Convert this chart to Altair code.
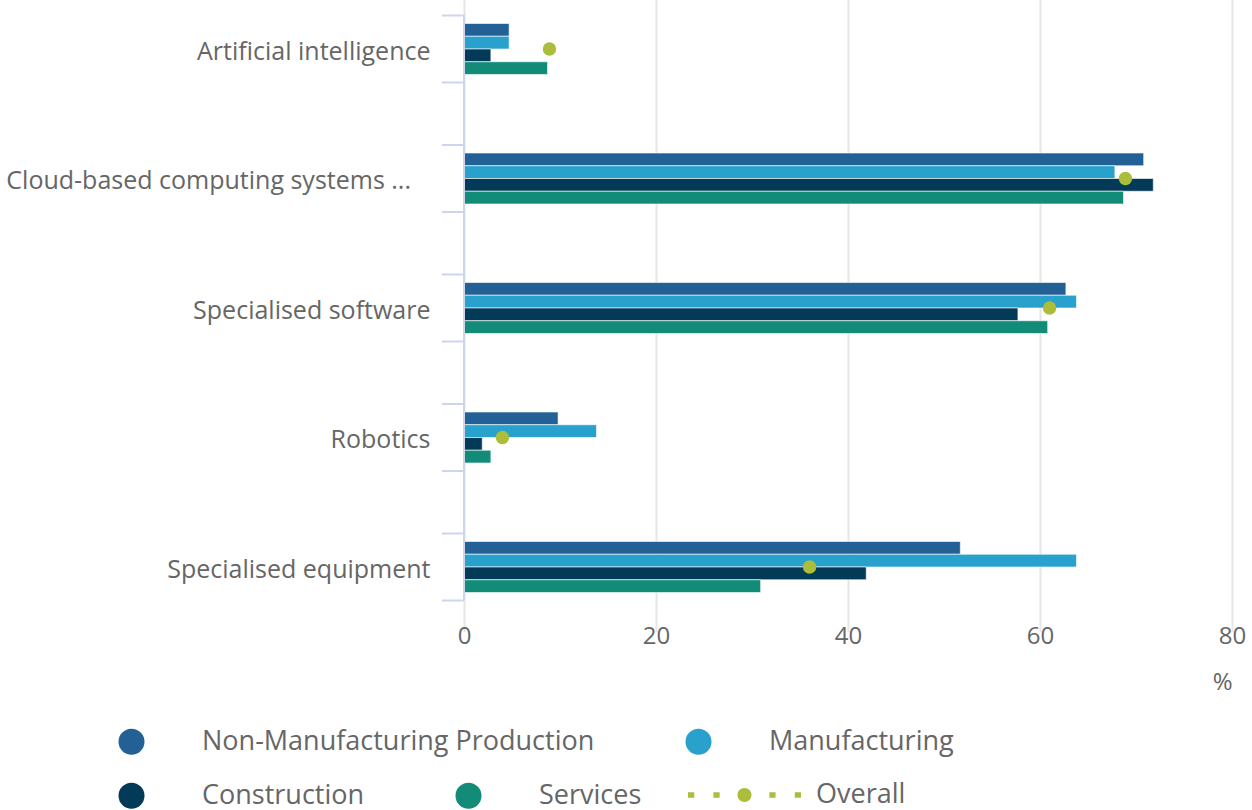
import altair as alt
import pandas as pd

categories = ["Artificial intelligence", "Cloud-based computing systems ...",
              "Specialised software", "Robotics", "Specialised equipment"]
series_names = ["Non-Manufacturing Production", "Manufacturing", "Construction", "Services"]
nmp = [4.7, 70.8, 62.7, 9.8, 51.7]
manufacturing = [4.7, 67.8, 63.8, 13.8, 63.8]
construction = [2.8, 71.8, 57.7, 1.9, 41.9]
services = [8.7, 68.7, 60.8, 2.8, 30.9]
overall = [8.9, 68.9, 61.0, 4.0, 36.0]
x_ticks = [0, 20, 40, 60, 80]

colors = {"Non-Manufacturing Production": "#236096", "Manufacturing": "#28a1cd",
          "Construction": "#033a58", "Services": "#138b79"}
overall_color = "#abbd3a"

rows = []
for name, vals in zip(series_names, [nmp, manufacturing, construction, services]):
    for c, v in zip(categories, vals):
        rows.append({"category": c, "series": name, "value": v})
bars_df = pd.DataFrame(rows)
overall_df = pd.DataFrame({"category": categories, "value": overall, "series": "Overall"})
cat_df = pd.DataFrame({"category": categories})

FONT = "Open Sans"
TEXT = "#666666"
LAV = "#ccd6eb"

W, H = 768, 586
y_scale = alt.Scale(domain=categories, range=[-30.75, 616.75], paddingInner=0, paddingOuter=0)
yoff_scale = alt.Scale(domain=series_names, range=[39.25, 90.25], paddingInner=0, paddingOuter=0)
x_scale = alt.Scale(domain=[0, 80], nice=False)

x_axis = alt.Axis(values=x_ticks, grid=True, gridColor="#e6e6e6", gridWidth=2,
                  domain=False, ticks=False, labelFont=FONT, labelFontSize=24,
                  labelColor=TEXT, labelPadding=23, labelFlush=False, labelBound=False,
                  labelOverlap=False, title="%", titleFont=FONT,
                  titleFontSize=24, titleColor=TEXT, titleFontWeight="normal",
                  titleX=768, titleY=81, titleAlign="right", titleBaseline="middle",
                  titleAnchor="end")
y_axis = alt.Axis(domain=False, ticks=False, grid=False, labelFont=FONT,
                  labelFontSize=25, labelColor=TEXT, labelPadding=34, labelLimit=0,
                  labelOffset=2.5,
                  labelExpr="datum.label == 'Cloud-based computing systems ...' ? "
                            "datum.label + '\u00a0\u00a0\u00a0\u200b' : datum.label",
                  title=None)

X = alt.X("value:Q", scale=x_scale, axis=x_axis)
Y = alt.Y("category:N", scale=y_scale, sort=categories, axis=y_axis)


def legend(x, y, extra):
    base = dict(orient="none", legendX=x, legendY=y, direction="horizontal", title=None,
                labelFont=FONT, labelFontSize=27, labelColor=TEXT, labelLimit=0,
                padding=0, symbolStrokeWidth=0, columnPadding=90)
    base.update(extra)
    return alt.Legend(**base)


circle_leg = dict(symbolType="circle", symbolSize=676, labelOffset=57)


def bar_layer(names, lx, ly):
    sub = bars_df[bars_df["series"].isin(names)]
    return alt.Chart(sub).mark_bar(stroke="white", strokeWidth=0.6).encode(
        x=X, y=Y,
        yOffset=alt.YOffset("series:N", scale=yoff_scale, sort=series_names),
        color=alt.Color("series:N", sort=names,
                        scale=alt.Scale(domain=names, range=[colors[n] for n in names]),
                        legend=legend(lx, ly, circle_leg)),
    )


layer_a = bar_layer(series_names[:2], -346, 713)
layer_b = bar_layer(series_names[2:], -346, 767)

path = ("M-1,-0.05L-0.89,-0.05L-0.89,0.05L-1,0.05Z "
        "M-0.55,-0.05L-0.44,-0.05L-0.44,0.05L-0.55,0.05Z "
        "M0.44,-0.05L0.55,-0.05L0.55,0.05L0.44,0.05Z "
        "M0.89,-0.05L1,-0.05L1,0.05L0.89,0.05Z "
        "M-0.124,0A0.124,0.124,0,1,0,0.124,0A0.124,0.124,0,1,0,-0.124,0Z")

dots = alt.Chart(overall_df).mark_circle(size=180, opacity=1).encode(
    x=X, y=Y,
    color=alt.Color("series:N", scale=alt.Scale(domain=["Overall"], range=[overall_color]),
                    legend=legend(224, 723.5, dict(symbolType=path, symbolSize=12769,
                                                   labelOffset=15))),
)

axis_line = alt.Chart(cat_df).mark_rule(color=LAV, strokeWidth=2).encode(
    x=alt.value(0), y=alt.value(0), y2=alt.value(H - 1))

ticks_top = alt.Chart(cat_df).mark_rule(color=LAV, strokeWidth=2, yOffset=-33.5).encode(
    y=Y, x=alt.value(-22), x2=alt.value(0))
ticks_bot = alt.Chart(cat_df).mark_rule(color=LAV, strokeWidth=2, yOffset=33.5).encode(
    y=Y, x=alt.value(-22), x2=alt.value(0))

chart = alt.layer(layer_a, layer_b, axis_line, ticks_top, ticks_bot, dots).resolve_scale(
    color="independent"
).properties(
    width=W, height=H,
    autosize=alt.AutoSizeParams(type="none"),
    padding={"left": 464, "top": 15, "right": 20, "bottom": 209},
    background="white",
).configure_view(stroke=None)

chart.save("out.html", embed_options={"renderer": "svg", "actions": False})
